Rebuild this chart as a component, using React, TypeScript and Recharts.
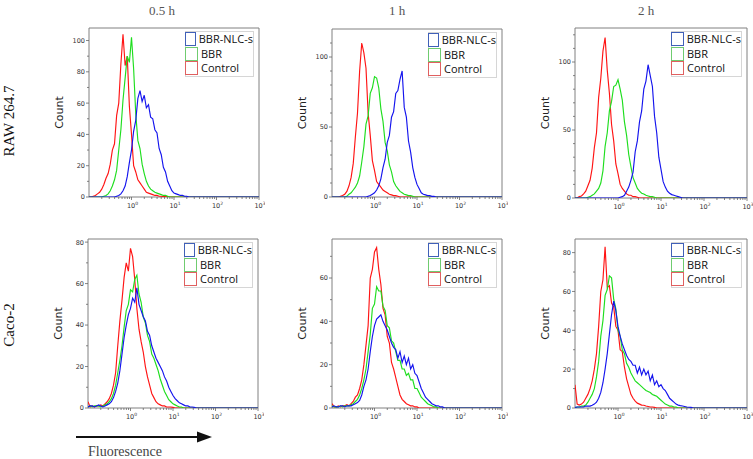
import React from 'react';
import { LineChart, Line, XAxis, YAxis, ReferenceArea, Legend } from 'recharts';

// x positions: log10(fluorescence)
const LOG_F = [
  -1, -0.95, -0.9, -0.85, -0.8, -0.75, -0.7, -0.65, -0.6, -0.55,
  -0.5, -0.45, -0.4, -0.35, -0.3, -0.25, -0.2, -0.15, -0.1, -0.05,
  0, 0.05, 0.1, 0.15, 0.2, 0.25, 0.3, 0.35, 0.4, 0.45,
  0.5, 0.55, 0.6, 0.65, 0.7, 0.75, 0.8, 0.85, 0.9, 0.95,
  1, 1.05, 1.1, 1.15, 1.2, 1.25, 1.3, 1.35, 1.4, 1.45,
  1.5, 1.55, 1.6, 1.65, 1.7, 1.75, 1.8, 1.85, 1.9, 1.95,
  2, 2.5, 3,
];

// RAW 264.7, 0.5 h
const R1 = [
  0, 0, 0.5, 1, 2, 3, 5, 8, 12, 15,
  21, 30, 34, 52, 60, 85, 104, 84, 90, 58,
  40, 20, 16, 11, 9, 7, 5, 3, 2.5, 2,
  1.5, 1, 1, 0.5, 0.5, 0.3, 0.3, 0.2, 0, 0,
  0, 0, 0, 0, 0, 0, 0, 0, 0, 0,
  0, 0, 0, 0, 0, 0, 0, 0, 0, 0,
  0, 0, 0,
];
const G1 = [
  0, 0, 0, 0, 0, 0, 0, 0.5, 1, 2,
  4, 7, 11, 17, 30, 43, 62, 76, 90, 86,
  102, 82, 53, 36, 31, 21, 15, 10, 7, 5,
  4, 3, 2.5, 2, 1.5, 1, 1, 0.5, 0, 0,
  0, 0, 0, 0, 0, 0, 0, 0, 0, 0,
  0, 0, 0, 0, 0, 0, 0, 0, 0, 0,
  0, 0, 0,
];
const B1 = [
  0, 0, 0, 0, 0, 0, 0, 0, 0, 0,
  0, 0, 0, 0.5, 1, 2, 4, 7, 13, 22,
  30, 42, 49, 63, 68, 61, 65, 57, 59, 51,
  50, 43, 41, 31, 27, 19, 16, 10, 7, 4,
  2.5, 2, 1.5, 1, 1, 0.5, 0.5, 0, 0, 0,
  0, 0, 0, 0, 0, 0, 0, 0, 0, 0,
  0, 0, 0,
];

// RAW 264.7, 1 h
const R2 = [
  0, 0, 0, 0, 0.5, 1, 2, 4, 8, 14,
  24, 43, 60, 90, 110, 103, 92, 60, 44, 26,
  19, 11, 9, 7, 5, 4, 3, 2, 1.5, 1,
  1, 0.5, 0, 0, 0, 0, 0, 0, 0, 0,
  0, 0, 0, 0, 0, 0, 0, 0, 0, 0,
  0, 0, 0, 0, 0, 0, 0, 0, 0, 0,
  0, 0, 0,
];
const G2 = [
  0, 0, 0, 0, 0, 0, 0, 0.5, 2, 3,
  5, 7, 10, 15, 25, 36, 52, 58, 74, 78,
  86, 85, 78, 63, 54, 39, 33, 23, 18, 11,
  8, 6, 4, 3, 2, 1.5, 1, 1, 0.5, 0,
  0, 0, 0, 0, 0, 0, 0, 0, 0, 0,
  0, 0, 0, 0, 0, 0, 0, 0, 0, 0,
  0, 0, 0,
];
const B2 = [
  0, 0, 0, 0, 0, 0, 0, 0, 0, 0,
  0, 0, 0, 0, 0, 0, 0, 0.5, 1, 2,
  3, 5, 8, 13, 21, 27, 39, 44, 57, 61,
  74, 76, 84, 90, 64, 57, 40, 32, 21, 14,
  9, 6, 3, 2, 1.5, 1, 1, 0.5, 0.5, 0,
  0, 0, 0, 0, 0, 0, 0, 0, 0, 0,
  0, 0, 0,
];

// RAW 264.7, 2 h
const R3 = [
  0, 0, 1, 1.5, 3, 5, 9, 13, 22, 37,
  48, 74, 88, 108, 118, 94, 77, 54, 42, 25,
  18, 10, 7, 5, 3, 2, 2, 1, 1, 0.5,
  0, 0, 0, 0, 0, 0, 0, 0, 0, 0,
  0, 0, 0, 0, 0, 0, 0, 0, 0, 0,
  0, 0, 0, 0, 0, 0, 0, 0, 0, 0,
  0, 0, 0,
];
const G3 = [
  0, 0, 0, 0, 0, 0, 0.5, 1, 2, 3,
  5, 7, 11, 20, 38, 48, 64, 71, 82, 83,
  87, 80, 72, 56, 46, 32, 23, 15, 11, 7,
  5, 3.5, 3, 2, 1.5, 1, 1, 0.5, 0, 0,
  0, 0, 0, 0, 0, 0, 0, 0, 0, 0,
  0, 0, 0, 0, 0, 0, 0, 0, 0, 0,
  0, 0, 0,
];
const B3 = [
  0, 0, 0, 0, 0, 0, 0, 0, 0, 0,
  0, 0, 0, 0, 0, 0, 0, 0, 0, 0,
  0, 0.5, 1, 2, 5, 8, 13, 19, 34, 42,
  56, 64, 80, 86, 98, 90, 82, 60, 48, 30,
  21, 12, 8, 5, 3.5, 2.5, 2, 1.5, 1, 0.5,
  0, 0, 0, 0, 0, 0, 0, 0, 0, 0,
  0, 0, 0,
];

// Caco-2, 0.5 h
const R4 = [
  3, 0.5, 1, 0.5, 1, 1, 1.5, 1, 2, 3,
  4.5, 7, 11, 17, 30, 42, 52, 63, 70, 66,
  77, 73, 62, 48, 38, 32, 27, 20, 15, 11,
  7, 5, 3, 2, 1.5, 1, 1, 0.5, 0.5, 0.5,
  0.3, 0, 0, 0, 0, 0, 0, 0, 0, 0,
  0, 0, 0, 0, 0, 0, 0, 0, 0, 0,
  0, 0, 0,
];
const G4 = [
  0.5, 1, 0.5, 1, 1, 1, 0.5, 1, 1.5, 2,
  3, 4.5, 7, 11, 17, 23, 30, 39, 47, 50,
  57, 56, 62, 64, 55, 51, 44, 41, 35, 32,
  26, 24, 21, 18, 14, 11, 8, 6, 4, 3,
  2, 1.5, 1, 0.5, 0.5, 0, 0, 0, 0, 0,
  0, 0, 0, 0, 0, 0, 0, 0, 0, 0,
  0, 0, 0,
];
const B4 = [
  0.5, 1, 1, 0.5, 1, 1.5, 1, 0.5, 1, 1.5,
  2, 3, 5, 8, 12, 18, 26, 34, 40, 45,
  48, 53, 51, 58, 50, 47, 44, 42, 37, 35,
  30, 27, 24, 22, 20, 18, 15, 13, 10, 8,
  6, 4.5, 3.5, 2.5, 2, 1.5, 1, 1, 0.5, 0.5,
  0.3, 0, 0, 0, 0, 0, 0, 0, 0, 0,
  0, 0, 0,
];

// Caco-2, 1 h
const R5 = [
  2, 0.5, 0.5, 1, 0.5, 1, 1, 1.5, 1, 2,
  3, 5, 6, 9, 13, 20, 29, 38, 60, 64,
  72, 74, 64, 57, 46, 43, 33, 30, 21, 18,
  14, 10, 6, 4, 3, 2, 1.5, 1, 1, 0.5,
  0.5, 0, 0, 0, 0, 0, 0, 0, 0, 0,
  0, 0, 0, 0, 0, 0, 0, 0, 0, 0,
  0, 0, 0,
];
const G5 = [
  1, 0.5, 0.5, 0.5, 1, 0.5, 1, 1, 1, 1.5,
  2, 3, 4, 6, 9, 13, 18, 26, 34, 46,
  48, 56, 54, 54, 47, 45, 38, 37, 31, 30,
  26, 22, 22, 18, 18, 15, 16, 13, 13, 9,
  9, 7, 5, 4, 3, 2, 1.5, 1, 0.5, 0.5,
  0, 0, 0, 0, 0, 0, 0, 0, 0, 0,
  0, 0, 0,
];
const B5 = [
  0.5, 1, 0.5, 0.5, 1, 1, 0.5, 1, 1, 1,
  1.5, 2, 2.5, 3.5, 6, 10, 13, 18, 26, 33,
  38, 41, 42, 43, 40, 38, 36, 33, 30, 28,
  27, 23, 26, 21, 24, 20, 23, 18, 20, 16,
  15, 12, 9, 7, 5, 4, 3, 2, 1.5, 1,
  1, 0.5, 0.5, 0, 0, 0, 0, 0, 0, 0,
  0, 0, 0,
];

// Caco-2, 2 h
const R6 = [
  12, 2, 1.5, 2, 3, 5, 7, 10, 14, 20,
  28, 42, 60, 66, 83, 62, 63, 54, 52, 42,
  40, 30, 29, 21, 15, 11, 7, 5, 3.5, 2.5,
  2, 1.5, 1.4, 1, 0.8, 0.5, 0.5, 0.3, 0, 0,
  0, 0, 0, 0, 0, 0, 0, 0, 0, 0,
  0, 0, 0, 0, 0, 0, 0, 0, 0, 0,
  0, 0, 0,
];
const G6 = [
  0, 0.5, 0.5, 1, 1, 1.5, 3, 5, 7, 10,
  16, 24, 37, 45, 58, 61, 68, 67, 56, 51,
  40, 37, 30, 28, 23, 21, 18, 16, 14, 13,
  12, 11, 10, 9, 8.5, 8, 7, 6.5, 6, 5,
  4, 3, 2, 1.5, 1, 1, 0.5, 0.5, 0, 0,
  0, 0, 0, 0, 0, 0, 0, 0, 0, 0,
  0, 0, 0,
];
const B6 = [
  0.3, 0.5, 0.5, 0.5, 0.5, 1, 1, 1, 1.4, 2,
  3, 5, 8, 13, 20, 28, 38, 48, 55, 50,
  42, 37, 33, 30, 27, 25, 24, 22, 22, 18,
  21, 17, 20, 17, 19, 14, 17, 12, 14, 11,
  12, 10, 9, 7, 5, 4, 3, 2, 1.5, 1.2,
  1, 0.8, 0.5, 0.4, 0.3, 0, 0, 0, 0, 0,
  0, 0, 0,
];

const X_MAJOR = [0, 1, 2, 3];
const X_EXPONENTS = ['0', '1', '2', '3'];
const DECADES = [-1, 0, 1, 2];
const MINOR_OFFSETS = [0.301, 0.477, 0.602, 0.699, 0.778, 0.845, 0.903, 0.954];
const X_MINOR = DECADES.flatMap((d) => MINOR_OFFSETS.map((m) => d + m));
const X_TICKS = [...X_MINOR, ...X_MAJOR].sort((a, b) => a - b);

const COL_TITLES = ['0.5 h', '1 h', '2 h'];
const ROW_TITLES = ['RAW 264.7', 'Caco-2'];

const SERIES = [
  { key: 'blue', name: 'BBR-NLC-s', color: '#1414ee', box: '#4060b8' },
  { key: 'green', name: 'BBR', color: '#1ede1e', box: '#70cc70' },
  { key: 'red', name: 'Control', color: '#ff1414', box: '#e06060' },
];
const DRAW_ORDER = ['red', 'green', 'blue'];

const PANELS = [
  { left: 89, top: 28, right: 259, bottom: 197, yMax: 108, yMajor: [0, 20, 40, 60, 80, 100], yMinor: [10, 30, 50, 70, 90], red: R1, green: G1, blue: B1 },
  { left: 332, top: 29, right: 502, bottom: 197, yMax: 120, yMajor: [0, 50, 100], yMinor: [10, 20, 30, 40, 60, 70, 80, 90, 110], red: R2, green: G2, blue: B2 },
  { left: 575, top: 28, right: 747, bottom: 198, yMax: 125, yMajor: [0, 50, 100], yMinor: [10, 20, 30, 40, 60, 70, 80, 90, 110, 120], red: R3, green: G3, blue: B3 },
  { left: 88, top: 239, right: 258, bottom: 408, yMax: 81.5, yMajor: [0, 20, 40, 60, 80], yMinor: [10, 30, 50, 70], red: R4, green: G4, blue: B4 },
  { left: 332, top: 239, right: 502, bottom: 408, yMax: 78, yMajor: [0, 20, 40, 60], yMinor: [10, 30, 50, 70], red: R5, green: G5, blue: B5 },
  { left: 575, top: 239, right: 747, bottom: 408, yMax: 87, yMajor: [0, 20, 40, 60, 80], yMinor: [10, 30, 50, 70], red: R6, green: G6, blue: B6 },
];

const PAD_L = 40;
const PAD_T = 4;
const PAD_R = 6;
const PAD_B = 20;
const TS = 3;
const TM = 2;
const AXIS_FONT = '"DejaVu Sans", Verdana, sans-serif';

function XTick(props: any) {
  const { x, y, payload } = props;
  const v = payload.value;
  const ay = y - TS - TM;
  const idx = X_MAJOR.indexOf(v);
  const major = idx >= 0;
  return (
    <g>
      <line x1={x} x2={x} y1={ay} y2={ay + (major ? 3 : 2)} stroke="#666" strokeWidth={0.8} />
      {major && (
        <text x={x + 1} y={ay + 10.5} textAnchor="middle" fontSize={6.5} fill="#333" fontFamily={AXIS_FONT}>
          10<tspan dy={-3} fontSize={4.5}>{X_EXPONENTS[idx]}</tspan>
        </text>
      )}
    </g>
  );
}

function makeYTick(majors: number[]) {
  return (props: any) => {
    const { x, y, payload } = props;
    const ax = x + TS + TM;
    const major = majors.includes(payload.value);
    return (
      <g>
        <line x1={ax} x2={ax - (major ? 3 : 2)} y1={y} y2={y} stroke="#666" strokeWidth={0.8} />
        {major && (
          <text x={ax - 4} y={y + 2.4} textAnchor="end" fontSize={6.5} fill="#333" fontFamily={AXIS_FONT}>
            {payload.value}
          </text>
        )}
      </g>
    );
  };
}

function countLabel(lp: any) {
  const vb = lp.viewBox || {};
  const cx = vb.x + vb.width - 30;
  const cy = vb.y + vb.height / 2;
  return (
    <text
      x={cx}
      y={cy}
      transform={`rotate(-90 ${cx} ${cy})`}
      textAnchor="middle"
      dominantBaseline="central"
      fontSize={11}
      fill="#222"
      fontFamily={AXIS_FONT}
    >
      Count
    </text>
  );
}

function LegendBox() {
  return (
    <div
      style={{
        border: '1px solid #d6d6d6',
        background: '#fff',
        fontFamily: '"Open Sans", sans-serif',
        fontSize: 11,
        color: '#111',
        lineHeight: '14px',
      }}
    >
      {SERIES.map((s) => (
        <div key={s.key} style={{ display: 'flex', alignItems: 'center', height: 14.5 }}>
          <span
            style={{
              display: 'inline-block',
              width: 13,
              height: 14,
              boxSizing: 'border-box',
              border: `1px solid ${s.box}`,
              marginLeft: -1,
            }}
          />
          <span style={{ marginLeft: 3, whiteSpace: 'nowrap' }}>{s.name}</span>
        </div>
      ))}
    </div>
  );
}

function Panel({ p }: { p: any }) {
  const plotW = p.right - p.left;
  const plotH = p.bottom - p.top;
  const w = plotW + PAD_L + PAD_R;
  const h = plotH + PAD_T + PAD_B;
  const data = LOG_F.map((x, i) => ({ x, red: p.red[i], green: p.green[i], blue: p.blue[i] }));
  const yTicks = [...p.yMajor, ...p.yMinor].sort((a: number, b: number) => a - b);
  const colorOf: any = { red: SERIES[2].color, green: SERIES[1].color, blue: SERIES[0].color };
  const nameOf: any = { red: 'Control', green: 'BBR', blue: 'BBR-NLC-s' };
  return (
    <div style={{ position: 'absolute', left: p.left - PAD_L, top: p.top - PAD_T }}>
      <LineChart width={w} height={h} data={data} margin={{ top: PAD_T, right: PAD_R, bottom: 0, left: 0 }}>
        <XAxis
          dataKey="x"
          type="number"
          domain={[-1, 3]}
          ticks={X_TICKS}
          interval={0}
          tick={XTick}
          tickLine={false}
          tickSize={TS}
          tickMargin={TM}
          height={PAD_B}
          axisLine={false}
          allowDataOverflow
        />
        <YAxis
          type="number"
          domain={[0, p.yMax]}
          ticks={yTicks}
          interval={0}
          tick={makeYTick(p.yMajor)}
          tickLine={false}
          tickSize={TS}
          tickMargin={TM}
          width={PAD_L}
          axisLine={false}
          allowDataOverflow
          label={countLabel}
        />
        <ReferenceArea x1={-1} x2={3} y1={0} y2={p.yMax} fill="none" fillOpacity={0} stroke="#808080" strokeWidth={1} ifOverflow="visible" />
        {DRAW_ORDER.map((k) => (
          <Line
            key={k}
            dataKey={k}
            name={nameOf[k]}
            type="linear"
            stroke={colorOf[k]}
            strokeWidth={1.15}
            dot={false}
            activeDot={false}
            isAnimationActive={false}
          />
        ))}
        <Legend
          layout="horizontal"
          verticalAlign="middle"
          align="center"
          wrapperStyle={{ left: PAD_L + 96, top: PAD_T + 3, width: plotW - 101, height: 'auto' }}
          content={() => <LegendBox />}
        />
      </LineChart>
    </div>
  );
}

export default function App() {
  const colX = [162, 397, 646];
  const rowY = [121, 325];
  return (
    <div style={{ position: 'absolute', left: 0, top: 0, width: 753, height: 459, background: '#fff', overflow: 'hidden' }}>
      {PANELS.map((p, i) => (
        <Panel key={i} p={p} />
      ))}
      <svg width={753} height={459} style={{ position: 'absolute', left: 0, top: 0, pointerEvents: 'none' }}>
        {COL_TITLES.map((t, i) => (
          <text key={t} x={colX[i]} y={15} textAnchor="middle" fontSize={13} fill="#555" fontFamily='"Liberation Serif", "DejaVu Serif", serif'>
            {t}
          </text>
        ))}
        {ROW_TITLES.map((t, i) => (
          <text
            key={t}
            x={14}
            y={rowY[i]}
            transform={`rotate(-90 14 ${rowY[i]})`}
            textAnchor="middle"
            fontSize={15}
            fill="#111"
            fontFamily='"Liberation Serif", "DejaVu Serif", serif'
          >
            {t}
          </text>
        ))}
        <line x1={76} y1={437} x2={199} y2={437} stroke="#111" strokeWidth={2} />
        <polygon points="197,431.5 212,437 197,442.5" fill="#111" />
        <text x={88} y={456} fontSize={14} fill="#444" fontFamily='"Liberation Serif", "DejaVu Serif", serif'>
          Fluorescence
        </text>
      </svg>
    </div>
  );
}
